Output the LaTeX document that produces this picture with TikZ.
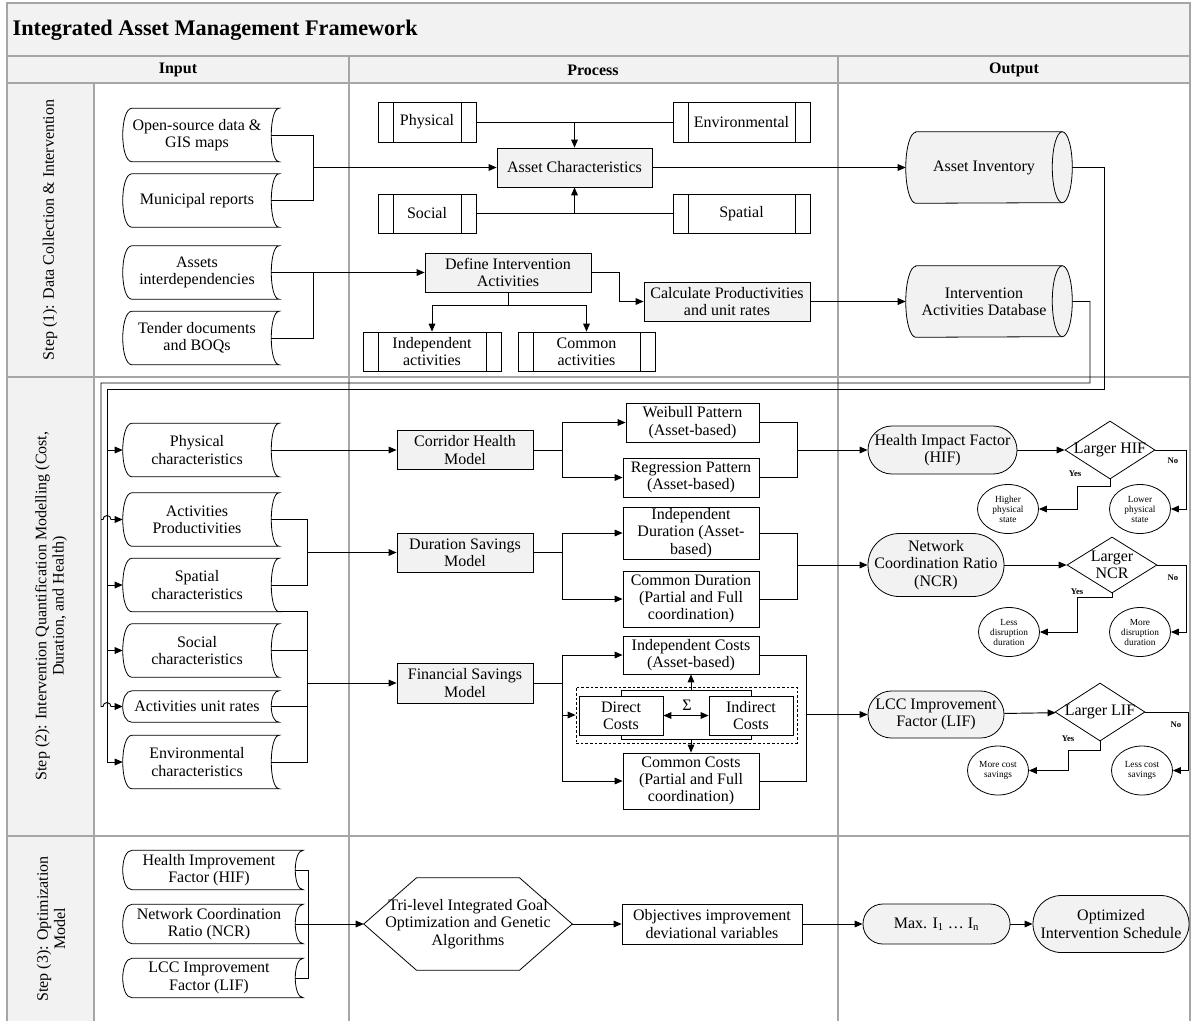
\documentclass[tikz,border=0pt]{standalone}
\usepackage{fontspec}
\setmainfont{Liberation Serif}
\usetikzlibrary{arrows.meta,shapes.geometric,backgrounds}

\definecolor{boxgray}{HTML}{F2F2F2}
\definecolor{lanegray}{HTML}{A6A6A6}

\newcommand\dataedge[1]{%
  \draw[shapeline] ([xshift=7pt]#1.north west) -- ([xshift=6pt]#1.north east)
    .. controls ([xshift=-2pt]#1.north east) and ([xshift=-2pt]#1.south east) .. ([xshift=6pt]#1.south east)
    -- ([xshift=7pt]#1.south west)
    .. controls ([xshift=-2.33pt]#1.south west) and ([xshift=-2.33pt]#1.north west) .. ([xshift=7pt]#1.north west) -- cycle;}
\newcommand\drumedge[1]{%
  \begin{scope}[on background layer]
  \filldraw[shapeline, fill=boxgray] ([xshift=7.5pt]#1.north west) -- (#1.north east)
    arc[start angle=90,end angle=-90,x radius=7.5pt,y radius=26.6pt]
    -- ([xshift=7.5pt]#1.south west)
    arc[start angle=270,end angle=90,x radius=7.5pt,y radius=26.6pt] -- cycle;
  \end{scope}
  \draw[shapeline] (#1.north east) arc[start angle=90,end angle=270,x radius=7.5pt,y radius=26.6pt];}

\tikzset{
  every node/.style={font=\fontsize{12}{13}\selectfont, align=center, inner sep=1pt},
  shapeline/.style={line width=0.6pt},
  laneline/.style={draw=lanegray, line width=1pt},
  link/.style={line width=0.7pt},
  flow/.style={link, -{Triangle[length=6pt,width=5pt]}},
  both/.style={link, {Triangle[length=6pt,width=5pt]}-{Triangle[length=6pt,width=5pt]}},
  plainbox/.style={draw, fill=white, shapeline, minimum height=29.25pt},
  graybox/.style={plainbox, fill=boxgray},
  subproc/.style={plainbox, path picture={
      \draw[shapeline] ([xshift=11.25pt]path picture bounding box.north west) -- ([xshift=11.25pt]path picture bounding box.south west);
      \draw[shapeline] ([xshift=-11.25pt]path picture bounding box.north east) -- ([xshift=-11.25pt]path picture bounding box.south east);}},
  datain/.style={minimum width=111pt, minimum height=39.75pt},
  drum/.style={minimum width=117pt, minimum height=53.25pt},
  term/.style={draw, fill=boxgray, shapeline, rounded corners=#1},
  decision/.style={diamond, draw, fill=white, shapeline, inner sep=0pt, minimum width=67.5pt, minimum height=43.5pt},
  leaf/.style={ellipse, draw, fill=white, shapeline, inner sep=0pt, minimum width=45.75pt, minimum height=36.75pt, font=\fontsize{7}{7.5}\selectfont},
  yesno/.style={font=\bfseries\fontsize{6.5}{7}\selectfont},
}

\begin{document}
\begin{tikzpicture}[x=0.75pt,y=-0.75pt]
\useasboundingbox (0,0) rectangle (1194,1021);
\fill[boxgray] (7,3) rectangle (1190,83);
\fill[boxgray] (7,83) rectangle (94,1021);
\draw[laneline] (7,1021) -- (7,3) -- (1190,3) -- (1190,1021);
\draw[laneline] (7,56) -- (1190,56) (7,83) -- (1190,83) (7,377) -- (1190,377) (7,836) -- (1190,836);
\draw[laneline] (94,83) -- (94,1021) (349,56) -- (349,1021) (838,56) -- (838,1021);

\node[anchor=west, font=\bfseries\fontsize{16.7}{20}\selectfont] (ttl) at (11,30) {Integrated Asset Management Framework};
\node[font=\bfseries\fontsize{12}{13}\selectfont] (hin) at (178,70) {Input};
\node[font=\bfseries\fontsize{12}{13}\selectfont] (hpr) at (593,70) {Process};
\node[font=\bfseries\fontsize{12}{13}\selectfont] (hout) at (1014,70) {Output};
\node[rotate=90] (st1) at (50,230) {Step (1): Data Collection \& Intervention};
\node[rotate=90] (st2) at (51,606) {Step (2): Intervention Quantification Modelling (Cost,\\Duration, and Health)};
\node[rotate=90] (st3) at (51,929) {Step (3): Optimization\\Model};

\node[datain] (osd) at (197,135) {Open-source data \&\\GIS maps};
\node[datain] (mun) at (197,200.5) {Municipal reports};
\node[datain] (aid) at (197,272.5) {Assets\\interdependencies};
\node[datain] (tnd) at (197,338) {Tender documents\\and BOQs};
\node[datain] (phc) at (197,450) {Physical\\characteristics};
\node[datain] (apr) at (197,519.5) {Activities\\Productivities};
\node[datain] (spc) at (197,585) {Spatial\\characteristics};
\node[datain] (soc) at (197,650.5) {Social\\characteristics};
\node[datain, minimum height=23.25pt] (aur) at (197,706.5) {Activities unit rates};
\node[datain] (enc) at (197,762) {Environmental\\characteristics};
\node[datain, minimum width=129pt, minimum height=29.25pt] (hii) at (209,870) {Health Improvement\\Factor (HIF)};
\node[datain, minimum width=129pt, minimum height=29.25pt] (ncri) at (209,924) {Network Coordination\\Ratio (NCR)};
\node[datain, minimum width=129pt, minimum height=29.25pt] (lifi) at (209,978) {LCC Improvement\\Factor (LIF)};
\foreach \n in {osd,mun,aid,tnd,phc,apr,spc,soc,aur,enc,hii,ncri,lifi} {\dataedge{\n}}

\node[subproc, minimum width=73.5pt, minimum height=30pt] (phy) at (427,122) {Physical};
\node[subproc, minimum width=102.75pt, minimum height=30pt] (env) at (741.5,122) {Environmental};
\node[graybox, minimum width=116.25pt] (ach) at (574.5,167.5) {Asset Characteristics};
\node[subproc, minimum width=73.5pt] (scl) at (427,213.5) {Social};
\node[subproc, minimum width=102.75pt] (spt) at (741.5,213.5) {Spatial};
\node[graybox, minimum width=124.5pt] (dia) at (508,272.5) {Define Intervention\\Activities};
\node[subproc, minimum width=103.5pt] (ind) at (432,351.5) {Independent\\activities};
\node[subproc, minimum width=102.75pt] (cma) at (586.5,351.5) {Common\\activities};
\node[graybox, minimum width=124.5pt] (cpr) at (727,301.5) {Calculate Productivities\\and unit rates};
\node[drum] (inv) at (984,167.5) {Asset Inventory};
\node[drum] (iad) at (984,301.5) {Intervention\\Activities Database};
\drumedge{inv}
\drumedge{iad}

\node[graybox, minimum width=102pt] (chm) at (465,450) {Corridor Health\\Model};
\node[plainbox, minimum width=99.75pt] (wbp) at (692.5,422.5) {Weibull Pattern\\(Asset-based)};
\node[plainbox, minimum width=102pt] (rgp) at (691,477.5) {Regression Pattern\\(Asset-based)};
\node[graybox, minimum width=102pt] (dsm) at (465,552.5) {Duration Savings\\Model};
\node[plainbox, minimum width=102pt, minimum height=39pt] (idu) at (691,533) {Independent\\Duration (Asset-\\based)};
\node[plainbox, minimum width=102pt, minimum height=42pt] (cdu) at (691,599) {Common Duration\\(Partial and Full\\coordination)};
\node[graybox, minimum width=102pt, minimum height=30pt] (fsm) at (465,683) {Financial Savings\\Model};
\node[plainbox, minimum width=102pt, minimum height=28.5pt] (ico) at (691,655) {Independent Costs\\(Asset-based)};
\node[draw, shapeline, dash pattern=on 2pt off 1.5pt, minimum width=165.75pt, minimum height=42pt] (grp) at (686.5,715) {};
\node[plainbox, minimum width=63pt] (dco) at (621,715.5) {Direct\\Costs};
\node[plainbox, minimum width=63pt] (idc) at (751,715.5) {Indirect\\Costs};
\node (sig) at (687,705) {Σ};
\node[plainbox, minimum width=102pt, minimum height=42pt] (cco) at (691,781) {Common Costs\\(Partial and Full\\coordination)};

\node[term=17.9pt, minimum width=111.75pt, minimum height=36pt] (hif) at (942.5,450) {Health Impact Factor\\(HIF)};
\node[decision, label={[name=lhif]center:Larger HIF}] (dhif) at (1110,450) {};
\node[leaf] (hps) at (1008,509) {Higher\\physical\\state};
\node[leaf] (lps) at (1140,509) {Lower\\physical\\state};
\node[yesno] (yhif) at (1075,474) {Yes};
\node[yesno] (nhif) at (1173,461) {No};
\node[term=23.5pt, minimum width=102pt, minimum height=47.25pt] (ncr) at (936,565) {Network\\Coordination Ratio\\(NCR)};
\node[decision, minimum height=42pt, label={[name=lncr]center:{Larger\\NCR}}] (dncr) at (1112,565) {};
\node[leaf] (ldd) at (1009,632) {Less\\disruption\\duration};
\node[leaf] (mdd) at (1140,632) {More\\disruption\\duration};
\node[yesno] (yncr) at (1077,592) {Yes};
\node[yesno] (nncr) at (1173,578) {No};
\node[term=17.5pt, minimum width=102pt, minimum height=35.25pt] (lif) at (936,714.5) {LCC Improvement\\Factor (LIF)};
\node[decision, label={[name=llif]center:Larger LIF}] (dlif) at (1100,712) {};
\node[leaf] (mcs) at (998,770.5) {More cost\\savings};
\node[leaf] (lcs) at (1142,770.5) {Less cost\\savings};
\node[yesno] (ylif) at (1068,739) {Yes};
\node[yesno] (nlif) at (1176,725) {No};

\node[minimum width=156pt, minimum height=69pt, inner sep=0pt] (tri) at (468,924) {Tri-level Integrated Goal\\Optimization and Genetic\\Algorithms};
\draw[shapeline] (tri.west) -- ([xshift=-38.6pt]tri.north) -- ([xshift=38.6pt]tri.north) -- (tri.east)
  -- ([xshift=38.6pt]tri.south) -- ([xshift=-38.6pt]tri.south) -- cycle;
\node[plainbox, minimum width=135pt, minimum height=30pt] (obj) at (712,924) {Objectives improvement\\deviational variables};
\node[term=14.9pt, minimum width=110.25pt, minimum height=30pt] (mx) at (936.5,924) {Max. I\textsubscript{1} … I\textsubscript{n}};
\node[term=21.2pt, minimum width=117pt, minimum height=42.75pt] (opt) at (1111,924) {Optimized\\Intervention Schedule};

\draw[link] (osd.east) -- (313,135) -- (313,200.5) -- (mun.east);
\draw[flow] (313,167.5) -- (ach);
\draw[link] (phy) -- (env);
\draw[flow] (ach.north |- phy) -- (ach);
\draw[link] (scl) -- (spt);
\draw[flow] (ach.south |- scl) -- (ach);
\draw[flow] (ach) -- (inv);
\draw[flow] (aid) -- (dia);
\draw[link] (313,272.5) |- (tnd.east);
\draw[flow] (dia.south) -- (508,305) -| (ind);
\draw[flow] (508,305) -| (cma);
\draw[flow] (dia.east) -| (619,301.5) -- (cpr);
\draw[flow] (cpr) -- (iad);

\draw[flow] ([xshift=7.5pt]inv.east) -| (1104,389) -- (107,389) |- (enc);
\draw[flow] (107,450) -- (phc);
\draw[flow] (107,585) -- (spc);
\draw[flow] (107,650.5) -- (soc);
\draw[flow] ([xshift=7.5pt]iad.east) -| (1090,383) -- (101,383) -- (101,706.5) -- (103,706.5)
  arc[start angle=180,end angle=0,radius=3pt] -- (aur.west);
\draw[flow] (101,519.5) -- (103,519.5) arc[start angle=180,end angle=0,radius=3pt] -- (apr.west);

\draw[flow] (phc) -- (chm);
\draw[link] (apr.east) -| (307,585) -- (spc.east);
\draw[flow] (307,552.5) -- (dsm);
\draw[link] ([xshift=6pt]spc.south east) -| (307,762) -- (enc.east);
\draw[link] (soc.east) -- (307,650.5) (aur.east) -- (307,706.5);
\draw[flow] (307,683) -- (fsm);

\draw[flow] (chm.east) -- (562,450) |- (wbp);
\draw[flow] (562,450) |- (rgp);
\draw[link] (wbp.east) -| (797,477.5) -- (rgp.east);
\draw[flow] (797,450) -- (hif);
\draw[flow] (dsm.east) -- (562,552.5) |- (idu);
\draw[flow] (562,552.5) |- (cdu);
\draw[link] (idu.east) -| (797,599) -- (cdu.east);
\draw[flow] (797,565) -- (ncr);
\draw[flow] (fsm.east) -- (562,683) |- (ico);
\draw[flow] (562,683) |- (cco);
\draw[flow] (562,715) -- (grp);
\draw[link] (ico.east) -| (806,781) -- (cco.east);
\draw[flow] (806,714.5) -- (lif);
\draw[both] (dco) -- (idc);
\draw[link] (dco.north) -- ++(0,4pt) -| (idc.north);
\draw[link] (dco.south) -- ++(0,-3pt) -| (idc.south);
\draw[flow] (691,690.2) -- (ico);
\draw[flow] (691,739.5) -- (cco);

\draw[flow] (hif) -- (dhif);
\draw[flow] (dhif.south) |- (1077,486) |- (hps);
\draw[flow] (dhif.east) -| (1186,509) -- (lps);
\draw[flow] (ncr) -- (dncr);
\draw[flow] (dncr.south) |- (1077,597) |- (ldd);
\draw[flow] (dncr.east) -| (1186,632) -- (mdd);
\draw[flow] (lif) -- (dlif);
\draw[flow] (dlif.south) |- (1068,750) |- (mcs);
\draw[flow] (dlif.east) -| (1188,770.5) -- (lcs);

\draw[link] (hii.east) -| (308,978) -- (lifi.east);
\draw[flow] (ncri) -- (tri.west);
\draw[flow] (tri.east) -- (obj);
\draw[flow] (obj) -- (mx);
\draw[flow] (mx) -- (opt);
\end{tikzpicture}
\end{document}
